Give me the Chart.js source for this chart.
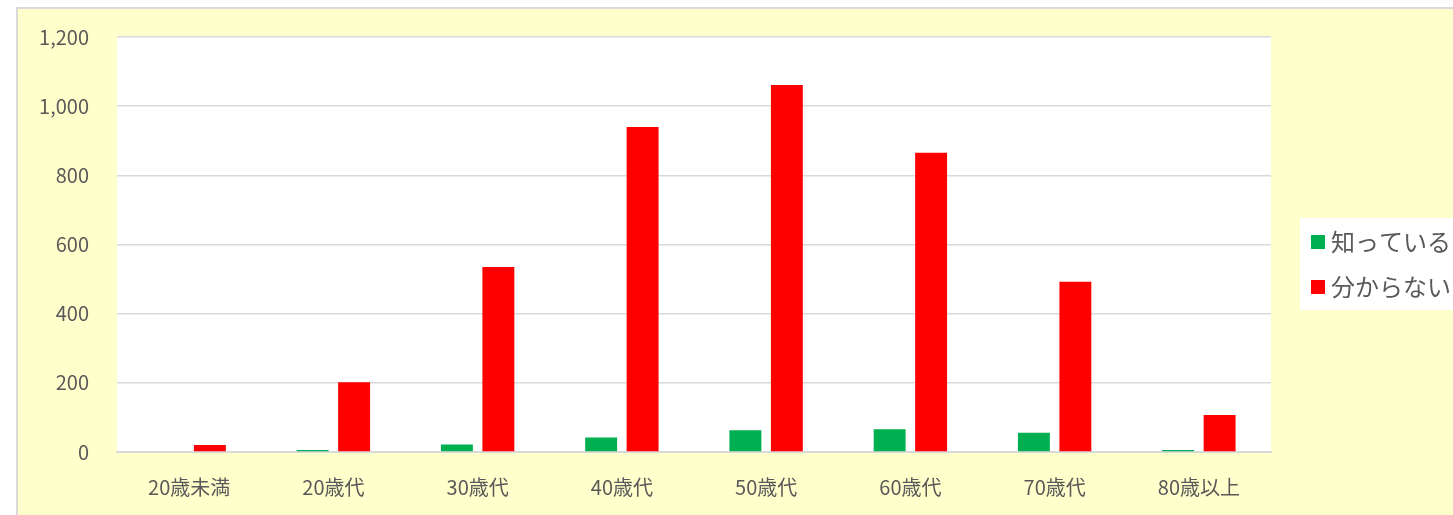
<!DOCTYPE html>
<html lang="ja">
<head>
<meta charset="utf-8">
<title>年代別</title>
<script src="https://cdn.jsdelivr.net/npm/chart.js@4.4.1/dist/chart.umd.min.js"></script>
<style>
    html, body { margin: 0; padding: 0; background: #ffffff; overflow: hidden; }
    #frame {
        position: absolute; left: 16px; top: 7px; width: 1460px; height: 530px;
        background: #ffffcc; border-left: 2px solid #d9d9d9; border-top: 2px solid #d9d9d9;
    }
    #wrap { position: absolute; left: 0; top: 0; width: 1453px; height: 515px; }
</style>
</head>
<body>
<div id="frame"></div>
<div id="wrap"><canvas id="age-chart"></canvas></div>
<script>
// 年代別の回答数
const ageGroups = ['20歳未満', '20歳代', '30歳代', '40歳代', '50歳代', '60歳代', '70歳代', '80歳以上'];
const knowCounts = [0, 6, 22, 42, 63, 66, 56, 6];
const unknownCounts = [20, 202, 535, 940, 1061, 865, 492, 107];
const seriesNames = ['知っている', '分からない'];
const seriesColors = ['#00b050', '#ff0000'];

const textColor = '#595959';
const fontFamily = "'Noto Sans CJK JP', 'Noto Sans', sans-serif";

// white plot area behind the bars
const plotBackground = {
    id: 'plotBackground',
    beforeDraw(chart) {
        const { ctx, chartArea: a } = chart;
        ctx.save();
        ctx.fillStyle = '#ffffff';
        ctx.fillRect(a.left, a.top, a.right - a.left, a.bottom - a.top);
        ctx.restore();
    }
};

// legend box on the right side
const sideLegend = {
    id: 'sideLegend',
    afterDraw(chart) {
        const ctx = chart.ctx;
        ctx.save();
        ctx.fillStyle = '#ffffff';
        ctx.fillRect(1300, 218, 160, 92);
        ctx.font = `24px ${fontFamily}`;
        ctx.textBaseline = 'middle';
        chart.data.datasets.forEach((ds, i) => {
            const y = 242 + i * 45;
            ctx.fillStyle = ds.backgroundColor;
            ctx.fillRect(1311, y - 7, 14, 14);
            ctx.fillStyle = textColor;
            ctx.fillText(ds.label, 1331, y);
        });
        ctx.restore();
    }
};

new Chart(document.getElementById('age-chart'), {
    type: 'bar',
    data: {
        labels: ageGroups,
        datasets: [
            { label: seriesNames[0], data: knowCounts, backgroundColor: seriesColors[0] },
            { label: seriesNames[1], data: unknownCounts, backgroundColor: seriesColors[1] }
        ]
    },
    options: {
        responsive: true,
        maintainAspectRatio: false,
        animation: false,
        categoryPercentage: 0.575,
        barPercentage: 0.77,
        layout: { padding: { top: 37, right: 182, left: 0, bottom: 0 } },
        scales: {
            x: {
                grid: { display: false, drawTicks: false },
                border: { display: true, color: '#d9d9d9', width: 2 },
                ticks: { color: textColor, font: { family: fontFamily, size: 20 }, padding: 23, maxRotation: 0 },
                afterFit(scale) { scale.height = 63; }
            },
            y: {
                min: 0,
                max: 1200,
                grid: { color: '#d9d9d9', lineWidth: 1.5, drawTicks: false },
                border: { display: false },
                ticks: {
                    stepSize: 200,
                    color: textColor,
                    font: { family: fontFamily, size: 20 },
                    padding: 28,
                    callback: v => v.toLocaleString('en-US')
                },
                afterFit(scale) {
                    // tick padding would otherwise push the plot top down
                    scale.width = 117;
                    scale.paddingTop = 0;
                    scale.paddingBottom = 0;
                }
            }
        },
        plugins: {
            legend: { display: false },
            tooltip: { enabled: false }
        }
    },
    plugins: [plotBackground, sideLegend]
});
</script>
</body>
</html>
